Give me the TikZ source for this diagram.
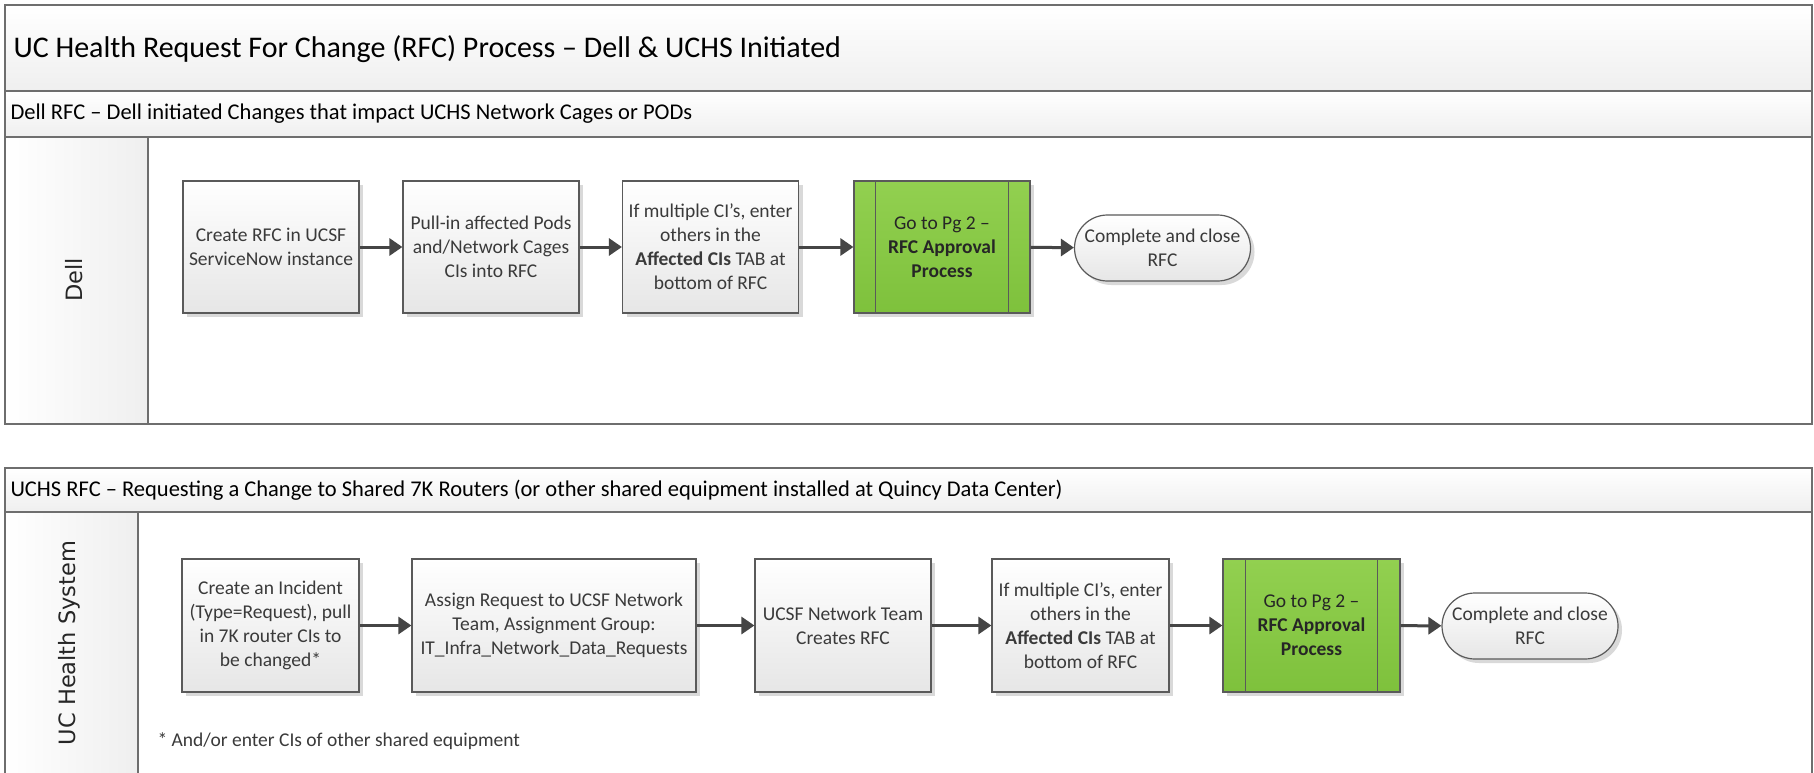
\documentclass[tikz,border=0pt]{standalone}
\usepackage{fontspec}
\setmainfont{Carlito}
\newfontfamily\lanefont{DejaVu Sans}
\usetikzlibrary{arrows.meta,shadows,calc}
\definecolor{frame}{HTML}{6E6E6E}
\definecolor{boxline}{HTML}{5A5A5A}
\definecolor{boxtext}{HTML}{3A3A3A}
\definecolor{arrowc}{HTML}{454545}
\definecolor{greenA}{HTML}{92D050}
\definecolor{greenB}{HTML}{7EC13C}
\definecolor{hdrB}{HTML}{EFEFEF}
\definecolor{boxB}{HTML}{E6E6E6}
\tikzset{
  boxfont/.style={font=\fontsize{19.5}{24}\selectfont, text=boxtext},
  procbox/.style={draw=boxline, line width=1.2pt, top color=white, bottom color=boxB,
    minimum width=176pt, minimum height=132pt, align=center, boxfont, inner sep=2pt,
    drop shadow={shadow xshift=4pt, shadow yshift=-4pt, fill=black!15, opacity=1}},
  greenbox/.style={procbox, top color=greenA, bottom color=greenB, text=black!85},
  termbox/.style={draw=boxline, line width=1.2pt, top color=white, bottom color=boxB,
    minimum width=176pt, minimum height=66pt, rounded corners=33pt, align=center, boxfont, inner sep=2pt,
    drop shadow={shadow xshift=4pt, shadow yshift=-4pt, fill=black!15, opacity=1}},
  flow/.style={draw=arrowc, line width=3pt, -{Triangle[length=13pt,width=17pt]}},
  framel/.style={draw=frame, line width=1.8pt},
  hdr/.style={framel, top color=white, bottom color=hdrB},
  lanecol/.style={framel, left color=white, right color=hdrB},
  hdrtext/.style={anchor=west, font=\fontsize{22.5}{26}\selectfont, text=black},
  lanetext/.style={rotate=90, font=\lanefont\fontsize{22.5}{26}\selectfont, text=black!85},
}
\begin{document}
\begin{tikzpicture}[x=1pt,y=-1pt]
\useasboundingbox (0,0) rectangle (1814,773);
\fill[white] (0,0) rectangle (1814,773);
% ---------- Pool 1 ----------
\draw[hdr] (5,5) rectangle (1812,91);
\node[anchor=west, font=\fontsize{30}{34}\selectfont] (title) at (10,49) {UC Health Request For Change (RFC) Process -- Dell \& UCHS Initiated};
\draw[hdr] (5,91) rectangle (1812,137);
\node[hdrtext] (h1) at (7,114) {Dell RFC -- Dell initiated Changes that impact UCHS Network Cages or PODs};
\draw[framel] (5,137) rectangle (1812,424);
\draw[lanecol] (5,137) rectangle (148,424);
\node[lanetext] (lane1) at (74,280) {Dell};

\node[procbox] (a1) at (271,247) {Create RFC in UCSF\\ServiceNow instance};
\node[procbox] (a2) at (491,247) {Pull-in affected Pods\\and/Network Cages\\CIs into RFC};
\node[procbox] (a3) at (710.5,247) {If multiple CI’s, enter\\others in the\\\textbf{Affected CIs} TAB at\\bottom of RFC};
\node[greenbox] (a4) at (942,247) {Go to Pg 2 --\\\textbf{RFC Approval}\\\textbf{Process}};
\draw[boxline, line width=1.2pt] ([xshift=22pt]a4.north west) -- ([xshift=22pt]a4.south west);
\draw[boxline, line width=1.2pt] ([xshift=-22pt]a4.north east) -- ([xshift=-22pt]a4.south east);
\node[termbox] (a5) at (1162.5,248) {Complete and close\\RFC};
\draw[flow] (a1) -- (a2);
\draw[flow] (a2) -- (a3);
\draw[flow] (a3) -- (a4);
\draw[flow] (a4) -- (a5);

% ---------- Pool 2 ----------
\draw[hdr] (5,468) rectangle (1812,512);
\node[hdrtext] (h2) at (7,490) {UCHS RFC -- Requesting a Change to Shared 7K Routers (or other shared equipment installed at Quincy Data Center)};
\draw[framel] (5,512) rectangle (1812,790);
\draw[lanecol] (5,512) rectangle (138,790);
\node[lanetext] (lane2) at (69,643) {UC Health System};

\node[procbox, minimum width=177pt, minimum height=133pt] (b1) at (270.5,625.5) {Create an Incident\\(Type=Request), pull\\in 7K router CIs to\\be changed*};
\node[procbox, minimum width=284pt, minimum height=133pt] (b2) at (554,625.5) {Assign Request to UCSF Network\\Team, Assignment Group:\\IT\_Infra\_Network\_Data\_Requests};
\node[procbox, minimum width=176pt, minimum height=133pt] (b3) at (843,625.5) {UCSF Network Team\\Creates RFC};
\node[procbox, minimum width=177pt, minimum height=133pt] (b4) at (1080.5,625.5) {If multiple CI’s, enter\\others in the\\\textbf{Affected CIs} TAB at\\bottom of RFC};
\node[greenbox, minimum width=177pt, minimum height=133pt] (b5) at (1311.5,625.5) {Go to Pg 2 --\\\textbf{RFC Approval}\\\textbf{Process}};
\draw[boxline, line width=1.2pt] ([xshift=23pt]b5.north west) -- ([xshift=23pt]b5.south west);
\draw[boxline, line width=1.2pt] ([xshift=-23pt]b5.north east) -- ([xshift=-23pt]b5.south east);
\node[termbox] (b6) at (1530,626) {Complete and close\\RFC};
\draw[flow] (b1) -- (b2);
\draw[flow] (b2) -- (b3);
\draw[flow] (b3) -- (b4);
\draw[flow] (b4) -- (b5);
\draw[flow] (b5) -- (b6);

\node[anchor=west, boxfont] (note) at (154,741) {* And/or enter CIs of other shared equipment};
\end{tikzpicture}
\end{document}
